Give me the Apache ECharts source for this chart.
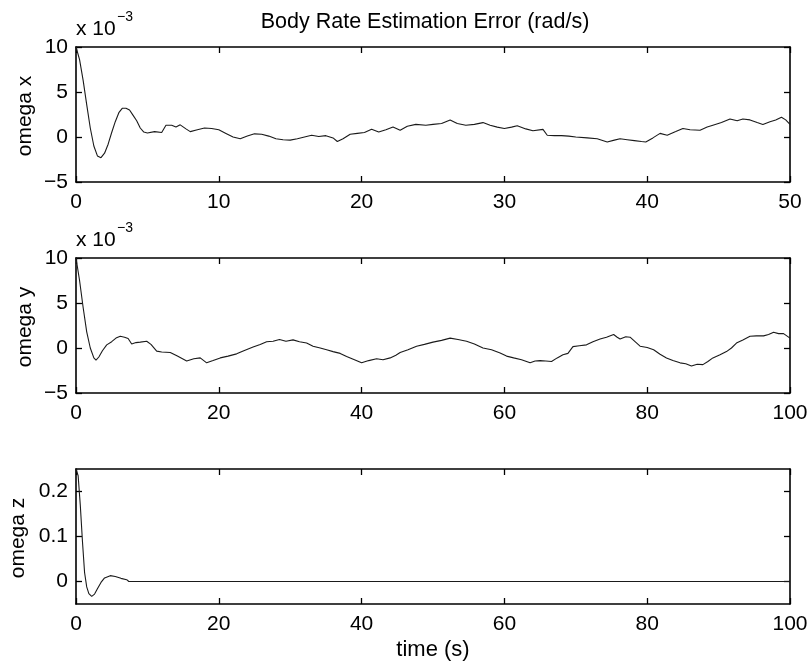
<!DOCTYPE html>
<html>
<head>
<meta charset="utf-8">
<script src="https://cdn.jsdelivr.net/npm/echarts@6/dist/echarts.min.js"></script>
<style>
html,body{margin:0;padding:0;background:#fff;}
#c{width:812px;height:663px;}
</style>
</head>
<body>
<div id="c"></div>
<script>
// omega x (units of 1e-3 rad/s)
var tX = [0,0.25,0.5,0.75,1.0,1.25,1.5,1.75,2.0,2.25,2.5,2.75,3.0,3.25,3.5,3.75,4.0,4.25,4.5,4.75,5.0,5.5,6.0,6.3,6.7,7.0,7.3,7.7,8.0,8.5,9.0,9.5,10.0,10.5,11.0,11.5,12.0,12.5,13.0,13.5,14.0,14.5,15.0,15.5,16.0,16.5,17.0,17.5,18.0,18.3,18.7,19.2,19.7,20.2,20.7,21.2,21.7,22.2,22.7,23.2,23.8,24.5,25.0,25.6,26.2,26.7,27.3,27.9,28.5,29.0,29.5,30.0,30.5,30.9,31.5,32.0,32.7,33.0,33.5,34.0,34.5,35.0,35.8,36.5,37.2,37.7,38.1,38.6,39.1,39.6,39.9,40.4,40.9,41.4,42.0,42.5,43.0,43.7,44.2,44.6,45.2,45.8,46.3,46.7,47.2,47.7,48.1,48.6,49.0,49.4,49.7,50.0];
var wX = [10,8.6,6.3,3.6,1.0,-1.0,-2.1,-2.3,-1.8,-0.8,0.5,1.7,2.7,3.2,3.2,3.0,2.4,1.8,1.0,0.55,0.45,0.6,0.5,1.3,1.3,1.1,1.35,0.9,0.6,0.8,1.0,0.95,0.8,0.4,0.0,-0.2,0.1,0.35,0.3,0.1,-0.2,-0.3,-0.35,-0.2,0.0,0.2,0.05,0.15,-0.1,-0.5,-0.2,0.3,0.4,0.5,0.85,0.55,0.8,1.1,0.75,1.2,1.4,1.3,1.4,1.5,1.9,1.5,1.3,1.4,1.6,1.3,1.1,0.95,1.1,1.25,0.9,0.7,0.85,0.2,0.15,0.15,0.1,0.0,-0.1,-0.2,-0.55,-0.35,-0.2,-0.3,-0.4,-0.5,-0.55,-0.1,0.4,0.2,0.6,0.95,0.8,0.75,1.1,1.3,1.6,2.0,1.8,2.0,1.9,1.6,1.4,1.7,1.9,2.2,1.9,1.4];

// omega y (units of 1e-3 rad/s)
var tY = [0,0.5,1.0,1.5,2.0,2.5,2.8,3.2,3.7,4.3,5.0,5.6,6.2,6.8,7.3,7.8,8.4,9.0,9.9,10.5,11.3,12.0,13.2,14.2,15.5,16.5,17.4,18.3,19.2,20.2,21.3,22.5,23.5,24.8,25.8,26.7,27.6,28.5,29.4,30.4,31.3,32.3,33.2,34.2,35.1,36.0,37.0,37.9,39.0,40.0,41.0,42.1,43.0,44.0,44.8,45.4,46.5,47.7,48.8,50.0,51.2,52.4,53.5,54.7,55.8,57.0,58.2,59.4,60.3,61.3,62.4,63.6,64.3,65.0,65.8,66.6,67.4,68.2,68.9,69.6,70.5,71.5,72.4,73.4,74.3,75.3,75.8,76.2,77.0,77.6,78.3,79.0,80.0,80.9,81.8,82.7,83.6,84.6,85.4,86.2,87.0,87.8,88.5,89.2,90.2,91.1,91.8,92.5,93.4,94.4,95.3,96.3,97.0,97.7,98.4,99.1,100];
var wY = [10,7.5,4.5,1.8,0.0,-1.1,-1.35,-1.0,-0.3,0.35,0.7,1.1,1.3,1.2,1.05,0.45,0.6,0.65,0.75,0.4,-0.35,-0.45,-0.5,-0.9,-1.45,-1.2,-1.1,-1.65,-1.4,-1.1,-0.9,-0.65,-0.3,0.1,0.4,0.7,0.75,0.95,0.75,0.9,0.7,0.55,0.2,0.0,-0.2,-0.4,-0.6,-0.95,-1.3,-1.65,-1.4,-1.2,-1.3,-1.1,-0.8,-0.5,-0.2,0.2,0.4,0.65,0.85,1.1,0.95,0.75,0.45,0.0,-0.2,-0.55,-0.9,-1.1,-1.3,-1.65,-1.45,-1.4,-1.45,-1.5,-1.1,-0.75,-0.6,0.15,0.25,0.35,0.7,1.0,1.2,1.5,1.2,1.0,1.25,1.2,0.7,0.2,0.05,-0.2,-0.7,-1.1,-1.4,-1.65,-1.75,-2.0,-1.8,-1.85,-1.5,-1.1,-0.75,-0.4,0.0,0.55,0.9,1.3,1.35,1.35,1.5,1.75,1.6,1.6,1.1];

// omega z (rad/s)
var tZ = [0,0.3,0.6,0.9,1.2,1.5,1.8,2.2,2.6,3.0,3.5,4.0,4.8,5.5,6.3,7.1,7.4,10,20,30,40,50,60,70,80,90,100];
var wZ = [0.25,0.235,0.17,0.09,0.02,-0.012,-0.027,-0.033,-0.028,-0.016,-0.002,0.008,0.013,0.011,0.007,0.004,0.0,0,0,0,0,0,0,0,0,0,0];

var xTicks1 = [0,10,20,30,40,50];
var xTicks2 = [0,20,40,60,80,100];
var yTicksXY = [-5,0,5,10];
var yTicksZ = [0,0.1,0.2];

var titleText = 'Body Rate Estimation Error (rad/s)';
var yNames = ['omega x','omega y','omega z'];
var xName = 'time (s)';

function zip(a,b){var r=[];for(var i=0;i<a.length;i++)r.push([a[i],b[i]]);return r;}
function fmt(v){ if(v<0) return '\u2212'+(-v); return String(v); }

var FONT = 'Liberation Sans, Arial, Helvetica, sans-serif';
var grids = [
  {left:76, right:22, top:47, height:135},
  {left:76, right:22, top:258, height:135},
  {left:76, right:22, top:469, height:135}
];
var xr = [[0,50,10],[0,100,20],[0,100,20]];
var yr = [[-5,10,5,null],[-5,10,5,null],[-0.05,0.25,null,yTicksZ]];

var xAxes=[], yAxes=[];
for (var g=0; g<3; g++){
  ['bottom','top'].forEach(function(pos){
    xAxes.push({
      type:'value', gridIndex:g, position:pos, min:xr[g][0], max:xr[g][1], interval:xr[g][2],
      axisLine:{show:true,onZero:false,lineStyle:{color:'#000',width:1.6}},
      axisTick:{show:true,inside:true,length:6,lineStyle:{color:'#000',width:1.3}},
      axisLabel:{show:pos==='bottom',color:'#000',fontSize:21,fontFamily:FONT,margin:10,formatter:fmt},
      splitLine:{show:false}
    });
  });
  ['left','right'].forEach(function(pos){
    var ax = {
      type:'value', gridIndex:g, position:pos, min:yr[g][0], max:yr[g][1],
      axisLine:{show:true,onZero:false,lineStyle:{color:'#000',width:1.6}},
      axisTick:{show:true,inside:true,length:6,lineStyle:{color:'#000',width:1.3}},
      axisLabel:{show:pos==='left',color:'#000',fontSize:21,fontFamily:FONT,margin:8,formatter:fmt},
      splitLine:{show:false}
    };
    if (yr[g][2]!==null){ ax.interval=yr[g][2]; }
    else { ax.axisTick.customValues=yr[g][3]; ax.axisLabel.customValues=yr[g][3]; ax.interval=0.05; }
    yAxes.push(ax);
  });
}

var seriesData=[zip(tX,wX),zip(tY,wY),zip(tZ,wZ)];
var series=[];
for (var s=0;s<3;s++){
  series.push({type:'line', xAxisIndex:s*2, yAxisIndex:s*2, data:seriesData[s], showSymbol:false, symbol:'none',
    lineStyle:{color:'#1a1a1a',width:1.1}, animation:false, silent:true, clip:true});
}

var centers=[116,327,538];
var nameX=[25,25,18];
var graphics=[
  {type:'text', x:425, y:22, style:{text:titleText, fill:'#000', font:'21.5px '+FONT, textAlign:'center', textVerticalAlign:'middle'}},
  {type:'text', x:433, y:650, style:{text:xName, fill:'#000', font:'22px '+FONT, textAlign:'center', textVerticalAlign:'middle'}},
  {type:'text', x:76, y:29, style:{text:'x 10', fill:'#000', font:'21px '+FONT, textAlign:'left', textVerticalAlign:'middle'}},
  {type:'text', x:117, y:17, style:{text:'\u22123', fill:'#000', font:'14px '+FONT, textAlign:'left', textVerticalAlign:'middle'}},
  {type:'text', x:76, y:240, style:{text:'x 10', fill:'#000', font:'21px '+FONT, textAlign:'left', textVerticalAlign:'middle'}},
  {type:'text', x:117, y:228, style:{text:'\u22123', fill:'#000', font:'14px '+FONT, textAlign:'left', textVerticalAlign:'middle'}}
];
for (var k=0;k<3;k++){
  graphics.push({type:'text', x:nameX[k], y:centers[k], rotation:Math.PI/2,
    style:{text:yNames[k], fill:'#000', font:'21px '+FONT, textAlign:'center', textVerticalAlign:'middle'}});
}

var chart = echarts.init(document.getElementById('c'), null, {renderer:'canvas'});
chart.setOption({
  backgroundColor:'#fff',
  animation:false,
  grid:grids,
  xAxis:xAxes,
  yAxis:yAxes,
  series:series,
  graphic:graphics
});
</script>
</body>
</html>
